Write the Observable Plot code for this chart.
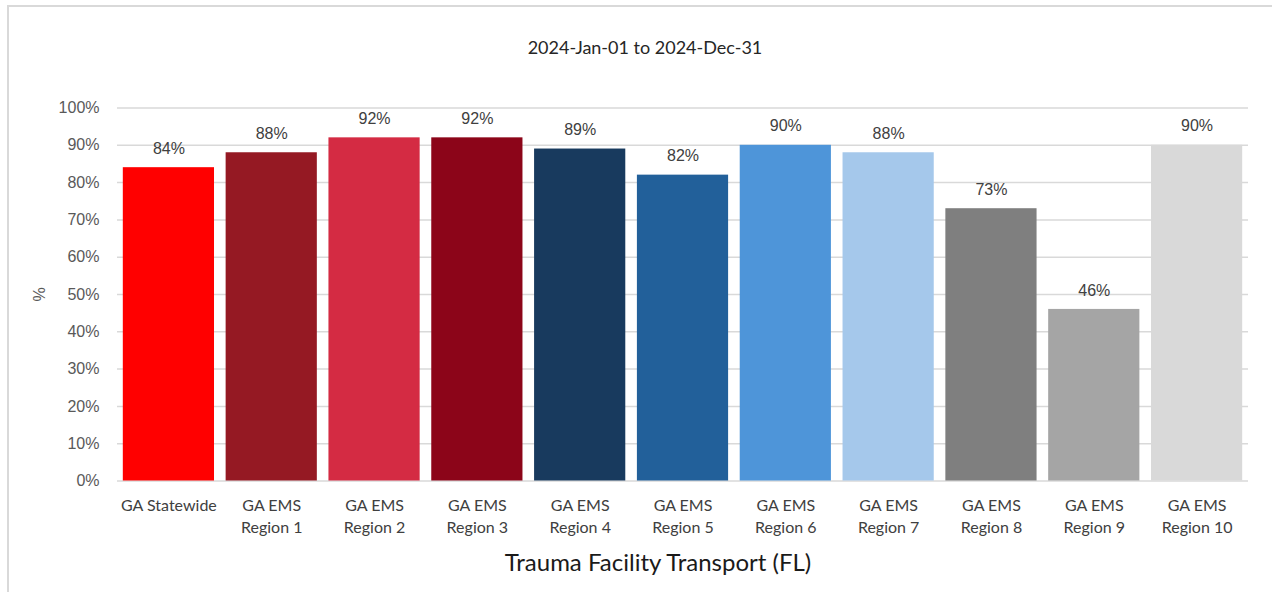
<!DOCTYPE html>
<html>
<head>
<meta charset="utf-8">
<script src="https://cdn.jsdelivr.net/npm/d3@7"></script>
<script src="https://cdn.jsdelivr.net/npm/@observablehq/plot@0.6"></script>
<style>
  html, body { margin: 0; padding: 0; background: #fff; }
  body { width: 1272px; height: 592px; position: relative; overflow: hidden; }
  #frame { position: absolute; left: 7px; top: 5px; width: 1300px; height: 700px; border: 2px solid #d9d9d9; box-sizing: border-box; }
  #title { position: absolute; top: 36px; left: 0; width: 1290px; text-align: center; font: 18px Lato, sans-serif; color: #262626; }
  #chart { position: absolute; left: 0; top: 0; }
  #xtitle { position: absolute; top: 547px; left: 0; width: 1316px; text-align: center; font: 24px Lato, sans-serif; color: #1a1a1a; }
</style>
</head>
<body>
<div id="frame"></div>
<div id="title">2024-Jan-01 to 2024-Dec-31</div>
<div id="chart"></div>
<div id="xtitle">Trauma Facility Transport (FL)</div>
<script>
const categories = ["GA Statewide", "GA EMS Region 1", "GA EMS Region 2", "GA EMS Region 3", "GA EMS Region 4", "GA EMS Region 5", "GA EMS Region 6", "GA EMS Region 7", "GA EMS Region 8", "GA EMS Region 9", "GA EMS Region 10"];
const values = [84, 88, 92, 92, 89, 82, 90, 88, 73, 46, 90];
const colors = ["#ff0000", "#951923", "#d42b43", "#8c0519", "#183a5e", "#22609a", "#4e95d9", "#a5c8eb", "#7f7f7f", "#a5a5a5", "#d9d9d9"];
const yTicks = [0, 10, 20, 30, 40, 50, 60, 70, 80, 90, 100];

const data = categories.map((c, i) => ({category: c, value: values[i], color: colors[i]}));

const wrap = (c) => c.startsWith("GA EMS ") ? "GA EMS\n" + c.slice(7) : c;

const plot = Plot.plot({
  width: 1272,
  height: 545,
  marginLeft: 117,
  marginRight: 24,
  marginTop: 107.5,
  marginBottom: 64.5,
  style: {fontFamily: "'Liberation Sans', Arial, sans-serif", fontSize: "16px", background: "transparent"},
  x: {domain: categories, paddingInner: 0.113, paddingOuter: 0.0565, round: false, axis: null},
  y: {domain: [0, 100], axis: null},
  color: {type: "identity"},
  marks: [
    Plot.ruleY(yTicks, {stroke: "#d9d9d9", strokeWidth: 1.5}),
    Plot.barY(data, {x: "category", y: "value", fill: "color"}),
    Plot.text(data, {x: "category", y: "value", text: d => d.value + "%", dy: -19, fill: "#404040", fontSize: 16}),
    Plot.axisY(yTicks, {
      tickSize: 0, tickPadding: 18, tickFormat: d => d + "%", fill: "#595959", fontSize: 16,
      label: "%", labelAnchor: "center", labelArrow: "none", labelOffset: 84
    }),
    Plot.axisX(categories, {
      tickSize: 0, tickPadding: 14, tickFormat: wrap, lineHeight: 1.4,
      fontFamily: "Lato, sans-serif", fontSize: 16, fill: "#404040", label: null
    })
  ]
});
document.getElementById("chart").appendChild(plot);
</script>
</body>
</html>
